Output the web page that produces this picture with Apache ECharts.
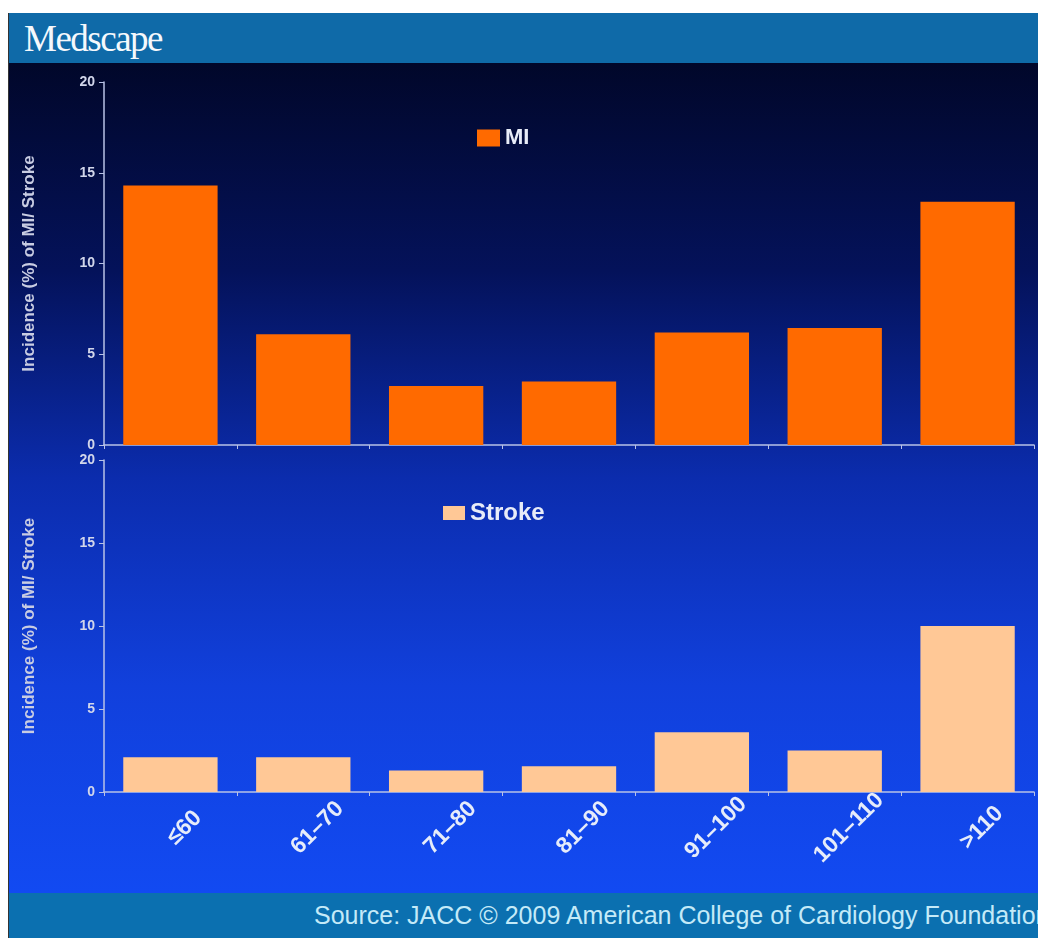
<!DOCTYPE html>
<html>
<head>
<meta charset="utf-8">
<script src="https://cdn.jsdelivr.net/npm/echarts@6/dist/echarts.min.js"></script>
<style>
  html, body { margin:0; padding:0; width:1038px; height:938px; background:#ffffff; overflow:hidden; }
  #frame { position:absolute; left:8px; top:13px; width:1030px; height:925px; border-left:1px solid #333; box-sizing:border-box; }
  #header { position:absolute; left:0; top:0; width:100%; height:50px; background:#0f6aa8; }
  #logo { position:absolute; left:15px; top:4px; font-family:"Liberation Serif","DejaVu Serif",serif; font-size:37px; color:#f4f8fc; letter-spacing:-1.5px; }
  #body { position:absolute; left:0; top:50px; width:100%; height:830px; background:linear-gradient(to bottom, #01072a 0%, #04125a 25%, #0b2cad 50%, #1140dc 75%, #124af2 100%); }
  #footer { position:absolute; left:0; top:880px; width:100%; height:45px; background:#0b70b0; overflow:hidden; }
  #source { position:absolute; left:305px; top:8px; white-space:nowrap; font-family:"Liberation Sans",Arial,sans-serif; font-size:25px; color:#c4eaf8; }
  #chart { position:absolute; left:0; top:0; width:1038px; height:938px; }
</style>
</head>
<body>
<div id="frame">
  <div id="header"><div id="logo">Medscape</div></div>
  <div id="body"></div>
  <div id="footer"><div id="source">Source: JACC © 2009 American College of Cardiology Foundation</div></div>
</div>
<div id="chart"></div>
<script>
const categories = ['≤60', '61–70', '71–80', '81–90', '91–100', '101–110', '>110'];
const miValues = [14.3, 6.1, 3.25, 3.5, 6.2, 6.45, 13.4];
const strokeValues = [2.1, 2.1, 1.3, 1.55, 3.6, 2.5, 10.0];
const yTicks = [0, 5, 10, 15, 20];

const axisColor = '#b8c2e6';
const labelColor = '#d2d6ea';
const font = '"Liberation Sans", Arial, sans-serif';

function yAxis(gridIndex) {
  return {
    type: 'value', gridIndex: gridIndex, min: yTicks[0], max: yTicks[yTicks.length - 1], interval: 5,
    name: 'Incidence (%) of MI/ Stroke', nameLocation: 'middle', nameGap: 66, nameRotate: 90,
    nameTextStyle: { color: '#c8cce2', fontSize: 17, fontWeight: 'bold', fontFamily: font },
    axisLine: { show: true, lineStyle: { color: axisColor, width: 1.5 } },
    axisTick: { show: true, length: 5, lineStyle: { color: axisColor } },
    splitLine: { show: false },
    axisLabel: { color: labelColor, fontSize: 14, fontWeight: 'bold', fontFamily: font, margin: 9 }
  };
}

const chart = echarts.init(document.getElementById('chart'), null, { renderer: 'canvas' });
chart.setOption({
  backgroundColor: 'transparent',
  animation: false,
  grid: [
    { left: 104, right: 4, top: 82, height: 363 },
    { left: 104, right: 4, top: 460, height: 332 }
  ],
  legend: [
    { data: ['MI'], icon: 'rect', left: 472, top: 122, itemWidth: 23, itemHeight: 17, itemGap: 12,
      textStyle: { color: '#e8ecf8', fontSize: 22, fontWeight: 'bold', fontFamily: font } },
    { data: ['Stroke'], icon: 'rect', left: 438, top: 496, itemWidth: 22, itemHeight: 14, itemGap: 12,
      textStyle: { color: '#e8ecf8', fontSize: 24, fontWeight: 'bold', fontFamily: font } }
  ],
  xAxis: [
    { type: 'category', gridIndex: 0, data: categories,
      axisLine: { lineStyle: { color: axisColor, width: 1.5 } },
      axisTick: { show: true, length: 4, lineStyle: { color: axisColor } },
      axisLabel: { show: false } },
    { type: 'category', gridIndex: 1, data: categories,
      axisLine: { lineStyle: { color: axisColor, width: 1.5 } },
      axisTick: { show: true, length: 4, lineStyle: { color: axisColor } },
      axisLabel: { show: true, interval: 0, rotate: 45, align: 'center', verticalAlign: 'middle', margin: 50,
        padding: [0, 0, 0, 40],
        color: '#e6ecfa', fontSize: 23, fontWeight: 'bold', fontFamily: font } }
  ],
  yAxis: [yAxis(0), yAxis(1)],
  series: [
    { name: 'MI', type: 'bar', xAxisIndex: 0, yAxisIndex: 0, data: miValues, barCategoryGap: '29%',
      itemStyle: { color: '#ff6a00' } },
    { name: 'Stroke', type: 'bar', xAxisIndex: 1, yAxisIndex: 1, data: strokeValues, barCategoryGap: '29%',
      itemStyle: { color: '#ffc896' } }
  ]
});
</script>
</body>
</html>
